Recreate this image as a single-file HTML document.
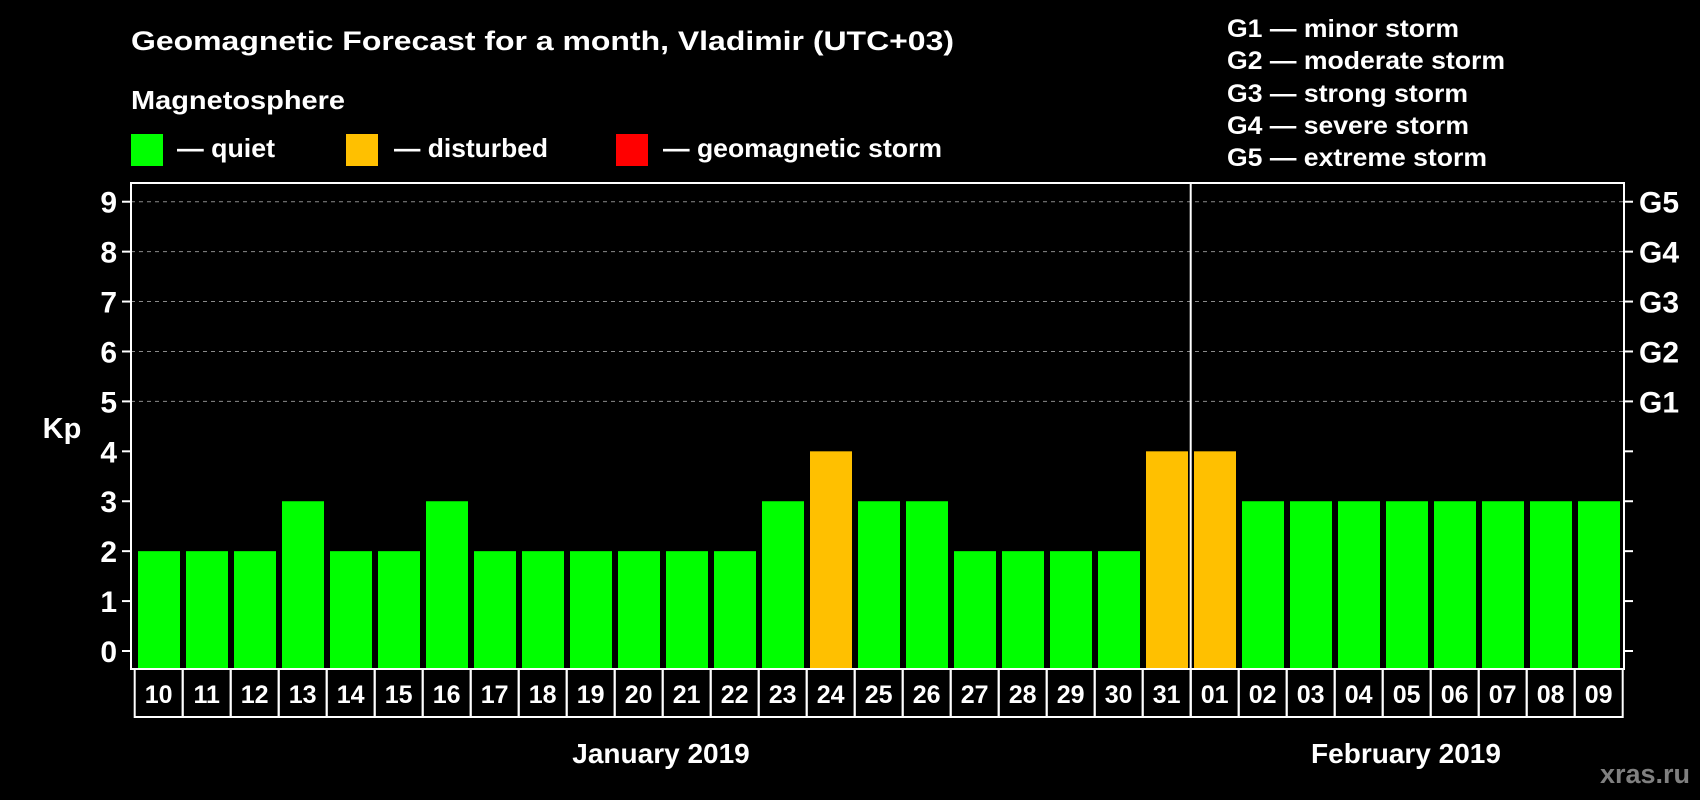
<!DOCTYPE html>
<html><head><meta charset="utf-8"><style>
html,body{margin:0;padding:0;background:#000;}
svg{display:block;font-family:"Liberation Sans",Arial,sans-serif;font-weight:bold;}
</style></head><body>
<svg id="chart" width="1700" height="800" viewBox="0 0 1700 800" xmlns="http://www.w3.org/2000/svg">
<rect width="1700" height="800" fill="#000"/>
<text x="131" y="50" font-size="27" fill="#fff" textLength="823" lengthAdjust="spacingAndGlyphs">Geomagnetic Forecast for a month, Vladimir (UTC+03)</text>
<text x="131" y="109" font-size="26" fill="#fff" textLength="214" lengthAdjust="spacingAndGlyphs">Magnetosphere</text>
<g>
<rect x="131" y="134" width="32" height="32" fill="#00ff00"/>
<text x="177" y="157" font-size="26" fill="#fff" textLength="98" lengthAdjust="spacingAndGlyphs">— quiet</text></g>
<g>
<rect x="346" y="134" width="32" height="32" fill="#ffc000"/>
<text x="394" y="157" font-size="26" fill="#fff" textLength="154" lengthAdjust="spacingAndGlyphs">— disturbed</text></g>
<g>
<rect x="616" y="134" width="32" height="32" fill="#ff0000"/>
<text x="663" y="157" font-size="26" fill="#fff" textLength="279" lengthAdjust="spacingAndGlyphs">— geomagnetic storm</text></g>
<g font-size="25" fill="#fff">
<text x="1227" y="37" textLength="232" lengthAdjust="spacingAndGlyphs">G1 — minor storm</text>
<text x="1227" y="69" textLength="278" lengthAdjust="spacingAndGlyphs">G2 — moderate storm</text>
<text x="1227" y="102" textLength="241" lengthAdjust="spacingAndGlyphs">G3 — strong storm</text>
<text x="1227" y="134" textLength="242" lengthAdjust="spacingAndGlyphs">G4 — severe storm</text>
<text x="1227" y="166" textLength="260" lengthAdjust="spacingAndGlyphs">G5 — extreme storm</text>
</g>
<text x="62" y="438" font-size="29" fill="#fff" text-anchor="middle">Kp</text>
<text x="661" y="763" font-size="28" fill="#fff" text-anchor="middle">January 2019</text>
<text x="1406" y="763" font-size="28" fill="#fff" text-anchor="middle">February 2019</text>
<text x="1690" y="783" font-size="27" fill="#808080" text-anchor="end">xras.ru</text>
<g id="plot"></g>
</svg>
<script>
const days = ["10","11","12","13","14","15","16","17","18","19","20","21","22","23","24","25","26","27","28","29","30","31","01","02","03","04","05","06","07","08","09"];
const kpValues = [2,2,2,3,2,2,3,2,2,2,2,2,2,3,4,3,3,2,2,2,2,4,4,3,3,3,3,3,3,3,3];
const yTicks = [0,1,2,3,4,5,6,7,8,9];
const gLabels = ["G1","G2","G3","G4","G5"];
const monthStartIndex = 22;

const NS = "http://www.w3.org/2000/svg";
const plot = document.getElementById("plot");
const L = 131, R = 1624, T = 183, B = 669;
const boxL = 134.7, step = 48, barW = 42, barOff = 3.3;
const y = v => 651 - v * 49.92;
const x = i => boxL + i * step;
function mk(tag, attrs) { const e = document.createElementNS(NS, tag); for (const k in attrs) e.setAttribute(k, attrs[k]); plot.appendChild(e); return e; }

yTicks.forEach(v => {
  if (v >= 5) {
    const g = mk("line", {x1: L, x2: R, y1: y(v), y2: y(v), stroke: "#8a8a8a", "stroke-width": 1, "stroke-dasharray": "4,4"});
    
    
  }
  const t = mk("line", {x1: L - 9, x2: L, y1: y(v), y2: y(v), stroke: "#fff", "stroke-width": 2});
  
  
  const t2 = mk("line", {x1: R, x2: R + 9, y1: y(v), y2: y(v), stroke: "#fff", "stroke-width": 2});
  
  
  const lb = mk("text", {x: 117, y: y(v) + 11, "font-size": 30, fill: "#fff", "text-anchor": "end"});
  lb.textContent = v;
  
  
});
gLabels.forEach((g, k) => {
  const e = mk("text", {x: 1639, y: y(5 + k) + 11, "font-size": 30, fill: "#fff"});
  e.textContent = g;
  
  
});
kpValues.forEach((v, i) => {
  const col = v >= 5 ? "#ff0000" : (v >= 4 ? "#ffc000" : "#00ff00");
  const b = mk("rect", {x: x(i) + barOff, y: y(v), width: barW, height: B - y(v), fill: col});
  
  
  const bx = mk("rect", {x: x(i), y: B, width: step, height: 48, fill: "none", stroke: "#fff", "stroke-width": 2});
  
  
  const t = mk("text", {x: x(i) + step / 2, y: B + 34, "font-size": 25, fill: "#fff", "text-anchor": "middle"});
  t.textContent = days[i];
  
  
});
const fr = mk("rect", {x: L, y: T, width: R - L, height: B - T, fill: "none", stroke: "#fff", "stroke-width": 2});


const sep = mk("line", {x1: x(monthStartIndex), x2: x(monthStartIndex), y1: T, y2: B + 48, stroke: "#fff", "stroke-width": 2});


</script>
</body></html>
